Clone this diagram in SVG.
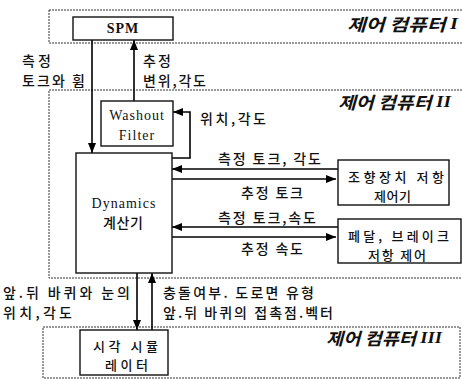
<svg xmlns="http://www.w3.org/2000/svg" width="462" height="381" viewBox="0 0 462 381">
<defs>
<marker id="ah" viewBox="0 0 10 8" refX="10" refY="4" markerWidth="10" markerHeight="8" markerUnits="userSpaceOnUse" orient="auto">
<path d="M0,0 L10,4 L0,8 z" fill="#000"/>
</marker>
<style>
.zone{fill:none;stroke:#333;stroke-width:1;stroke-dasharray:2,1}
.box{fill:#fff;stroke:#111;stroke-width:1.4}
.ln{fill:none;stroke:#000;stroke-width:1.6}
.ko{font-family:"Noto Sans CJK KR","Noto Sans",sans-serif;font-size:14px;font-weight:500;fill:#111;dominant-baseline:central}
.kb{font-family:"Noto Sans CJK KR","Noto Sans",sans-serif;font-size:13px;font-weight:500;fill:#111;dominant-baseline:central}
.lat{font-family:"Liberation Serif","DejaVu Serif",serif;font-size:14px;fill:#111;dominant-baseline:central;letter-spacing:1px}
.zl{font-family:"Noto Sans CJK KR","Noto Sans",sans-serif;font-size:17px;font-weight:bold;font-style:italic;fill:#111;dominant-baseline:central}
.rn{font-family:"Liberation Serif",serif;font-weight:bold;font-style:italic}
</style>
</defs>

<g id="zones">
<rect class="zone" x="49" y="10" width="430" height="33"/>
<rect class="zone" x="49" y="90" width="430" height="188"/>
<rect class="zone" x="43" y="327" width="417" height="51"/>
<text class="zl" x="347" y="23" textLength="111" lengthAdjust="spacingAndGlyphs">제어 컴퓨터 <tspan class="rn">I</tspan></text>
<text class="zl" x="338" y="101" textLength="113" lengthAdjust="spacingAndGlyphs">제어 컴퓨터 <tspan class="rn">II</tspan></text>
<text class="zl" x="326" y="337" textLength="116" lengthAdjust="spacingAndGlyphs">제어 컴퓨터 <tspan class="rn">III</tspan></text>
</g>

<g id="connectors">
<line class="ln" x1="92" y1="40" x2="92" y2="153" marker-end="url(#ah)"/>
<line class="ln" x1="134" y1="101" x2="134" y2="40" marker-end="url(#ah)"/>
<polyline class="ln" points="172,158 190,158 190,112 173,112" marker-end="url(#ah)"/>
<line class="ln" x1="338" y1="169" x2="172" y2="169" marker-end="url(#ah)"/>
<line class="ln" x1="172" y1="179" x2="336" y2="179" marker-end="url(#ah)"/>
<line class="ln" x1="338" y1="227" x2="172" y2="227" marker-end="url(#ah)"/>
<line class="ln" x1="172" y1="237" x2="336" y2="237" marker-end="url(#ah)"/>
<line class="ln" x1="137" y1="273" x2="137" y2="330" marker-end="url(#ah)"/>
<line class="ln" x1="152" y1="330" x2="152" y2="273" marker-end="url(#ah)"/>
</g>

<g id="labels">
<text class="ko" x="22" y="60" textLength="29">측정</text>
<text class="ko" x="22" y="80" textLength="63">토크와 휨</text>
<text class="ko" x="143" y="60" textLength="28">추정</text>
<text class="ko" x="143" y="80" textLength="63">변위,각도</text>
<text class="ko" x="200" y="118" textLength="66">위치,각도</text>
<text class="ko" x="218" y="158" textLength="103">측정 토크, 각도</text>
<text class="ko" x="241" y="192" textLength="62">추정 토크</text>
<text class="ko" x="218" y="217" textLength="98">측정 토크,속도</text>
<text class="ko" x="241" y="248" textLength="62">추정 속도</text>
<text class="ko" x="3" y="292" textLength="127">앞.뒤 바퀴와 눈의</text>
<text class="ko" x="3" y="312" textLength="69">위치,각도</text>
<text class="ko" x="163" y="292" textLength="151">충돌여부. 도로면 유형</text>
<text class="ko" x="163" y="312" textLength="170">앞.뒤 바퀴의 접촉점.벡터</text>
</g>

<g id="spm">
<rect class="box" x="73" y="17" width="100" height="23"/>
<text class="lat" x="123" y="28" text-anchor="middle" font-weight="bold" font-size="13">SPM</text>
</g>

<g id="washout">
<rect class="box" x="101" y="101" width="72" height="45"/>
<text class="lat" x="137" y="115" text-anchor="middle">Washout</text>
<text class="lat" x="137" y="135" text-anchor="middle">Filter</text>
</g>

<g id="dynamics">
<rect class="box" x="76" y="153" width="96" height="120"/>
<text class="lat" x="124" y="203" text-anchor="middle">Dynamics</text>
<text class="ko" x="123" y="222" text-anchor="middle" textLength="40">계산기</text>
</g>

<g id="steering">
<rect class="box" x="338" y="160" width="111" height="45"/>
<text class="kb" x="348" y="176" textLength="96">조향장치 저항</text>
<text class="kb" x="374" y="195" textLength="37">제어기</text>
</g>

<g id="pedal">
<rect class="box" x="338" y="219" width="123" height="44"/>
<text class="kb" x="348" y="235" textLength="101">페달, 브레이크</text>
<text class="kb" x="368" y="254" textLength="58">저항 제어</text>
</g>

<g id="simulator">
<rect class="box" x="80" y="330" width="88" height="45"/>
<text class="kb" x="93" y="345" textLength="65">시각 시뮬</text>
<text class="kb" x="105" y="364" textLength="43">레이터</text>
</g>
</svg>
